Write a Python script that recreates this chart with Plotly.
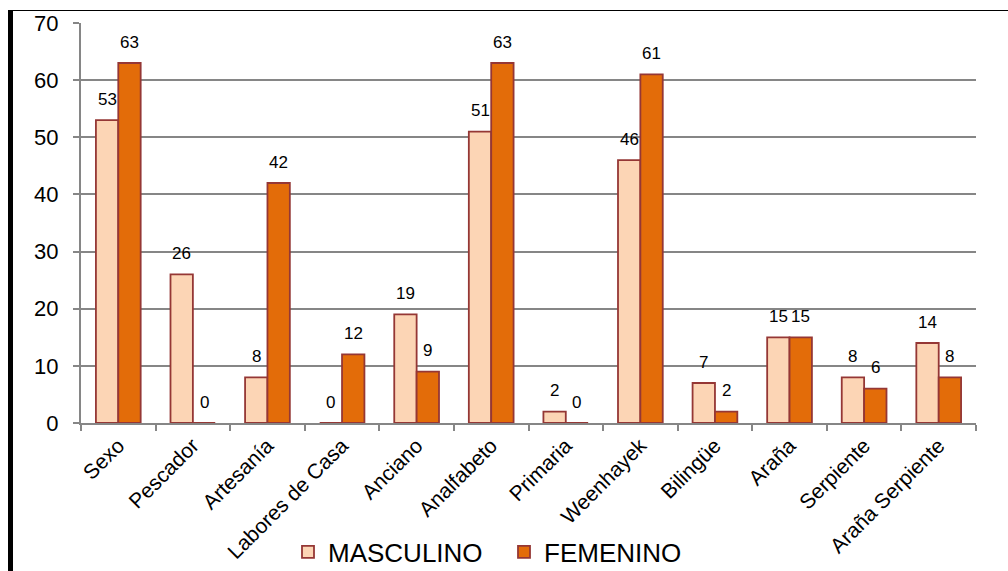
import plotly.graph_objects as go

categories = ["Sexo", "Pescador", "Artesanía", "Labores de Casa", "Anciano",
              "Analfabeto", "Primaria", "Weenhayek", "Bilingüe", "Araña",
              "Serpiente", "Araña Serpiente"]
masculino = [53, 26, 8, 0, 19, 51, 2, 46, 7, 15, 8, 14]
femenino = [63, 0, 42, 12, 9, 63, 0, 61, 2, 15, 6, 8]
y_ticks = [0, 10, 20, 30, 40, 50, 60, 70]

FONT = "Liberation Sans, Arial, sans-serif"
EDGE = "#953735"
GRID = "#868686"

W, H = 1008, 571
M_L, M_R, M_T, M_B = 81, 32, 23, 148
PW = W - M_L - M_R
PH = H - M_T - M_B

fig = go.Figure()
fig.add_trace(go.Bar(
    name="MASCULINO", x=categories, y=masculino,
    marker=dict(color="#FCD5B5", line=dict(color=EDGE, width=1.8)),
))
fig.add_trace(go.Bar(
    name="FEMENINO", x=categories, y=femenino,
    marker=dict(color="#E36C09", line=dict(color=EDGE, width=1.8)),
))

# value labels above each bar
annotations = []
for i, cat in enumerate(categories):
    for off, vals in ((-0.15, masculino), (0.15, femenino)):
        annotations.append(dict(
            x=i + off, y=vals[i], xref="x", yref="y",
            text=str(vals[i]), showarrow=False, yshift=21,
            font=dict(family=FONT, size=17, color="#000000"),
        ))

# frame lines: thick left border and thin top border
def px_x(px):
    return (px - M_L) / PW

def px_y(py):
    return 1 - (py - M_T) / PH

shapes = [
    dict(type="rect", xref="paper", yref="paper",
         x0=px_x(8), x1=px_x(13), y0=px_y(571), y1=px_y(10),
         fillcolor="#000000", line=dict(width=0), layer="above"),
    dict(type="line", xref="paper", yref="paper",
         x0=px_x(8), x1=px_x(1008), y0=px_y(10.5), y1=px_y(10.5),
         line=dict(color="#000000", width=1.2), layer="above"),
]

fig.update_layout(
    width=W, height=H,
    margin=dict(l=M_L, r=M_R, t=M_T, b=M_B, pad=0, autoexpand=False),
    paper_bgcolor="#FFFFFF", plot_bgcolor="#FFFFFF",
    barmode="group", bargap=0.4, bargroupgap=0,
    font=dict(family=FONT, color="#000000"),
    annotations=annotations, shapes=shapes,
    legend=dict(orientation="h", x=px_x(288), xanchor="left",
                y=px_y(552), yanchor="middle",
                font=dict(family=FONT, size=26, color="#000000"),
                entrywidth=171, entrywidthmode="pixels",
                traceorder="normal", bgcolor="rgba(0,0,0,0)"),
    xaxis=dict(
        type="category", tickangle=-45, tickson="boundaries",
        ticks="outside", ticklen=6, tickcolor=GRID, tickwidth=2,
        showline=True, linecolor=GRID, linewidth=2,
        showgrid=False, range=[-0.5, len(categories) - 0.5],
        automargin=False,
        tickfont=dict(family=FONT, size=21, color="#000000"),
    ),
    yaxis=dict(
        range=[0, 70], tickvals=y_ticks,
        ticks="outside", ticklen=6, tickcolor=GRID, tickwidth=2,
        showline=True, linecolor=GRID, linewidth=2,
        showgrid=True, gridcolor=GRID, gridwidth=2,
        zeroline=False, ticklabelstandoff=10, automargin=False,
        tickfont=dict(family=FONT, size=22, color="#000000"),
    ),
)

fig.write_html("out.html")
